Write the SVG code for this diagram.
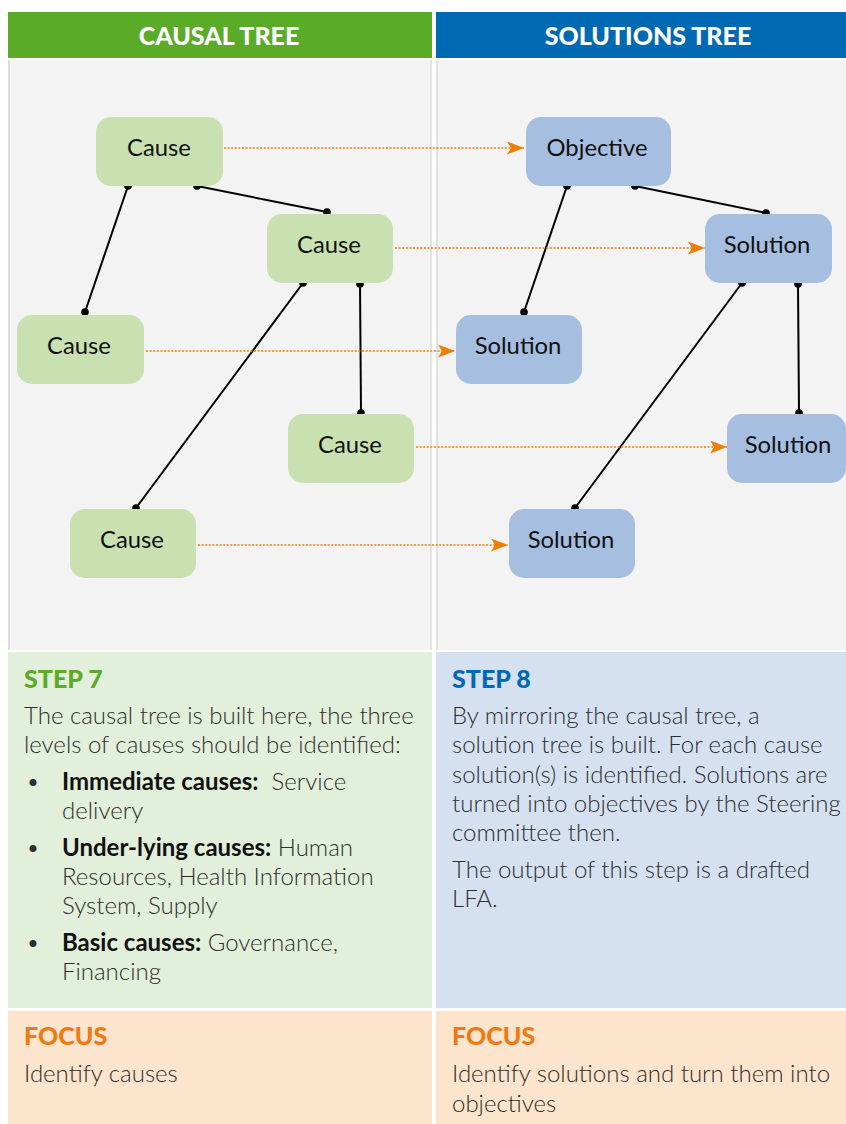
<svg xmlns="http://www.w3.org/2000/svg" width="846" height="1124" viewBox="0 0 846 1124">
<style>
text{font-family:Lato,"Noto Sans","Liberation Sans",sans-serif}
.hd{font-size:25px;font-weight:900;fill:#fff;text-anchor:middle}
.lbl{font-size:23.8px;fill:#111;text-anchor:middle}
.cause rect{fill:#c9e0b1}
.sol rect{fill:#a6bfe0}
.body{font-size:24px;font-weight:300;fill:#2e2e2e}
.b{font-weight:700;fill:#111}
.st{font-size:25px;font-weight:900}
.tree line{stroke:#000;stroke-width:2}
.tree circle{fill:#000}
.map line{stroke:#f07d00;stroke-width:1.6;stroke-dasharray:2 1.6}
</style>
<defs>
<marker id="ah" viewBox="0 0 17 13" refX="17" refY="6.5" markerWidth="17" markerHeight="13" markerUnits="userSpaceOnUse" orient="auto">
<path d="M0,0 L17,6.5 L0,13 L4,6.5 Z" fill="#f07d00"/>
</marker>
</defs>
<rect width="846" height="1124" fill="#fff"/>
<!-- headers -->
<g id="header-causal"><rect x="8" y="12" width="424" height="46" fill="#5aab28"/><text class="hd" x="219" y="45">CAUSAL TREE</text></g>
<g id="header-solutions"><rect x="436" y="12" width="410" height="46" fill="#0069b4"/><text class="hd" x="648" y="45">SOLUTIONS TREE</text></g>
<!-- panels -->
<g id="panels">
<rect x="8" y="60" width="424" height="590" fill="#f3f3f3"/>
<rect x="436" y="60" width="410" height="590" fill="#f3f3f3"/>
<line x1="9" y1="60" x2="9" y2="650" stroke="#d4d4d4" stroke-width="1.5"/>
<line x1="431" y1="60" x2="431" y2="650" stroke="#dcdcdc" stroke-width="1.5"/>
<line x1="437" y1="60" x2="437" y2="650" stroke="#dcdcdc" stroke-width="1.5"/>
</g>
<!-- connectors -->
<g id="connectors">
<g class="tree">
<line x1="128" y1="186" x2="85" y2="312"/>
<line x1="197" y1="186" x2="327" y2="212"/>
<line x1="303" y1="283" x2="136" y2="508"/>
<line x1="360" y1="284" x2="361" y2="413"/>
<line x1="567" y1="186" x2="524" y2="312"/>
<line x1="635" y1="186" x2="766" y2="213"/>
<line x1="742" y1="283" x2="575" y2="508"/>
<line x1="798" y1="284" x2="799" y2="413"/>
<circle cx="128" cy="186" r="3.8"/><circle cx="85" cy="312" r="3.8"/>
<circle cx="197" cy="186" r="3.8"/><circle cx="327" cy="212" r="3.8"/>
<circle cx="303" cy="283" r="3.8"/><circle cx="136" cy="508" r="3.8"/>
<circle cx="360" cy="284" r="3.8"/><circle cx="361" cy="413" r="3.8"/>
<circle cx="567" cy="186" r="3.8"/><circle cx="524" cy="312" r="3.8"/>
<circle cx="635" cy="186" r="3.8"/><circle cx="766" cy="213" r="3.8"/>
<circle cx="742" cy="283" r="3.8"/><circle cx="575" cy="508" r="3.8"/>
<circle cx="798" cy="284" r="3.8"/><circle cx="799" cy="413" r="3.8"/>
</g>
<g class="map">
<line x1="224" y1="148" x2="524" y2="148" marker-end="url(#ah)"/>
<line x1="395" y1="248" x2="705" y2="248" marker-end="url(#ah)"/>
<line x1="146" y1="351" x2="455" y2="351" marker-end="url(#ah)"/>
<line x1="416" y1="447" x2="727" y2="447" marker-end="url(#ah)"/>
<line x1="198" y1="545" x2="508" y2="545" marker-end="url(#ah)"/>
</g>
</g>
<!-- nodes -->
<g id="cause1" class="cause"><rect x="96" y="117" width="127" height="69" rx="15"/><text class="lbl" x="159" y="156">Cause</text></g>
<g id="cause2" class="cause"><rect x="267" y="214" width="126" height="69" rx="15"/><text class="lbl" x="329" y="253">Cause</text></g>
<g id="cause3" class="cause"><rect x="17" y="315" width="127" height="69" rx="15"/><text class="lbl" x="79" y="354">Cause</text></g>
<g id="cause4" class="cause"><rect x="288" y="414" width="126" height="69" rx="15"/><text class="lbl" x="350" y="453">Cause</text></g>
<g id="cause5" class="cause"><rect x="70" y="509" width="126" height="69" rx="15"/><text class="lbl" x="132" y="548">Cause</text></g>
<g id="objective" class="sol"><rect x="526" y="117" width="145" height="69" rx="15"/><text class="lbl" x="597" y="156">Objective</text></g>
<g id="solution1" class="sol"><rect x="705" y="214" width="127" height="69" rx="15"/><text class="lbl" x="767" y="253">Solution</text></g>
<g id="solution2" class="sol"><rect x="456" y="315" width="126" height="69" rx="15"/><text class="lbl" x="518" y="354">Solution</text></g>
<g id="solution3" class="sol"><rect x="727" y="414" width="119" height="69" rx="15"/><text class="lbl" x="788" y="453">Solution</text></g>
<g id="solution4" class="sol"><rect x="509" y="509" width="126" height="69" rx="15"/><text class="lbl" x="571" y="548">Solution</text></g>
<!-- step 7 -->
<g id="step7">
<rect x="8" y="652" width="424" height="356" fill="#e2efda"/>
<text class="st" x="24" y="688" fill="#5aab28">STEP 7</text>
<text class="body" x="24" y="724">The causal tree is built here, the three</text>
<text class="body" x="24" y="753">levels of causes should be identified:</text>
<text class="body" x="26" y="790" font-weight="700" fill="#111">•</text>
<text class="body" x="62" y="790"><tspan class="b">Immediate causes:</tspan>&#160; Service</text>
<text class="body" x="62" y="819">delivery</text>
<text class="body" x="26" y="856" font-weight="700" fill="#111">•</text>
<text class="body" x="62" y="856"><tspan class="b">Under-lying causes:</tspan> Human</text>
<text class="body" x="62" y="885">Resources, Health Information</text>
<text class="body" x="62" y="914">System, Supply</text>
<text class="body" x="26" y="951" font-weight="700" fill="#111">•</text>
<text class="body" x="62" y="951"><tspan class="b">Basic causes:</tspan> Governance,</text>
<text class="body" x="62" y="980">Financing</text>
</g>
<!-- step 8 -->
<g id="step8">
<rect x="436" y="652" width="410" height="356" fill="#d5e0f0"/>
<text class="st" x="452" y="688" fill="#0069b4">STEP 8</text>
<text class="body" x="452" y="724">By mirroring the causal tree, a</text>
<text class="body" x="452" y="753">solution tree is built. For each cause</text>
<text class="body" x="452" y="783">solution(s) is identified. Solutions are</text>
<text class="body" x="452" y="812">turned into objectives by the Steering</text>
<text class="body" x="452" y="841">committee then.</text>
<text class="body" x="452" y="878">The output of this step is a drafted</text>
<text class="body" x="452" y="907">LFA.</text>
</g>
<!-- focus -->
<g id="focus-left">
<rect x="8" y="1011" width="424" height="113" fill="#fde4cc"/>
<text class="st" x="24" y="1045" fill="#ee7a11">FOCUS</text>
<text class="body" x="24" y="1082">Identify causes</text>
</g>
<g id="focus-right">
<rect x="436" y="1011" width="410" height="113" fill="#fde4cc"/>
<text class="st" x="452" y="1045" fill="#ee7a11">FOCUS</text>
<text class="body" x="452" y="1082">Identify solutions and turn them into</text>
<text class="body" x="452" y="1112">objectives</text>
</g>
</svg>
